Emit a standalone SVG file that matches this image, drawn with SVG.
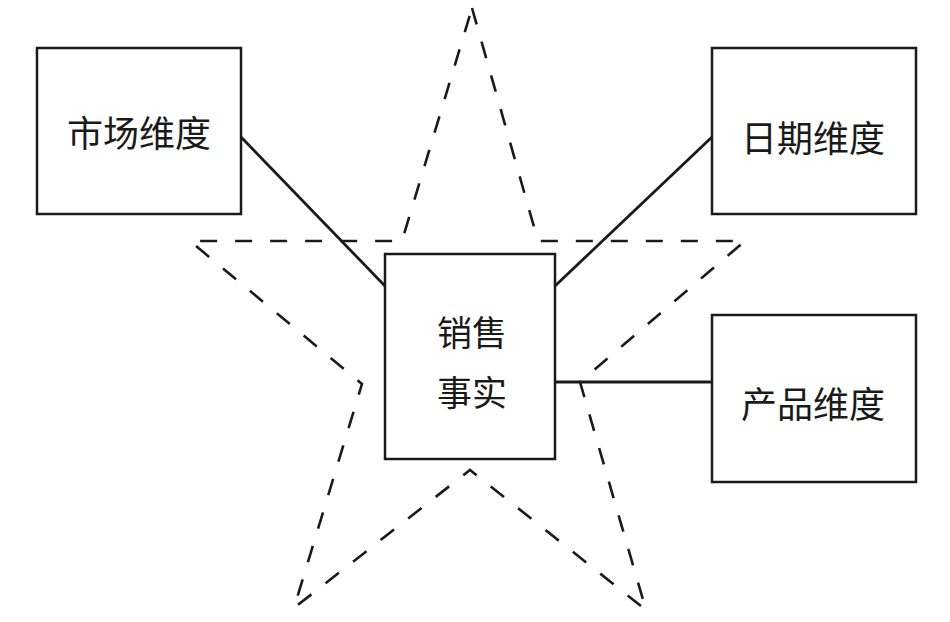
<svg xmlns="http://www.w3.org/2000/svg" width="950" height="622" viewBox="0 0 950 622">
  <style>
    .box { fill: #ffffff; stroke: #1a1a1a; stroke-width: 2.5; }
    .star { fill: none; stroke: #1a1a1a; stroke-width: 2.6; stroke-dasharray: 17 18; }
    .conn { fill: none; stroke: #1a1a1a; stroke-width: 2.8; }
    .lbl { font-family: "Noto Sans CJK SC", "Noto Sans", sans-serif; font-size: 36px; font-weight: 400; fill: #1a1a1a; text-anchor: middle; dominant-baseline: central; }
  </style>
  <rect width="950" height="622" fill="#ffffff"/>
  <g id="star">
    <polygon class="star" points="472,8 538,241 745,241 580,382 646,610 470,470 294,608 362,384 190,241 402,241"/>
  </g>
  <g id="connectors">
    <line class="conn" x1="241" y1="137" x2="385" y2="286"/>
    <line class="conn" x1="555" y1="286" x2="712" y2="137"/>
    <line class="conn" x1="555" y1="382" x2="712" y2="382"/>
  </g>
  <g id="market">
    <rect class="box" x="37" y="48" width="204" height="166"/>
    <text class="lbl" x="139" y="131">市场维度</text>
  </g>
  <g id="date">
    <rect class="box" x="712" y="48" width="204" height="166"/>
    <text class="lbl" x="813" y="136">日期维度</text>
  </g>
  <g id="product">
    <rect class="box" x="712" y="315" width="204" height="167"/>
    <text class="lbl" x="813" y="402">产品维度</text>
  </g>
  <g id="sales">
    <rect class="box" x="385" y="254" width="170" height="205"/>
    <text class="lbl" x="472" y="330" style="font-size:35px">销售</text>
    <text class="lbl" x="472" y="390" style="font-size:35px">事实</text>
  </g>
</svg>
